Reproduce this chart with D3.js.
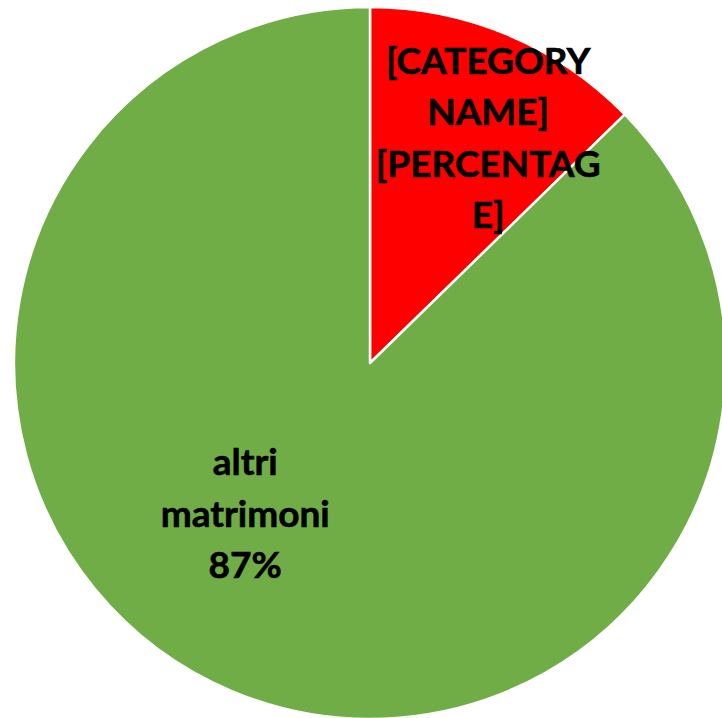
<!DOCTYPE html>
<html>
<head>
<meta charset="utf-8">
<script src="https://d3js.org/d3.v7.min.js"></script>
<style>
  body { margin: 0; background: #fff; overflow: hidden; }
  svg { display: block; }
  .lbl { font-family: Lato, "Open Sans", sans-serif; font-weight: bold; fill: #000; }
</style>
</head>
<body>
<svg id="chart"></svg>
<script>
// data
var categories = ["[CATEGORY NAME]", "altri matrimoni"];
var values = [12.7, 87.3];
var colors = ["#ff0000", "#70ad47"];
// label text as it wraps in the original
var labelLines = [
  ["[CATEGORY", "NAME]", "[PERCENTAG", "E]"],
  ["altri", "matrimoni", "87%"]
];

var w = 722, h = 718;
var cx = 370, cy = 363, r = 356;

// where the labels sit: angle (deg, clockwise from top) and fraction of radius
var labelPos = [{a: 27.7, f: 0.714}, {a: 219.6, f: 0.55}];
var lineH = 51.5;

var svg = d3.select("#chart")
    .attr("width", w)
    .attr("height", h);

var g = svg.append("g")
    .attr("transform", "translate(" + cx + "," + cy + ")");

var data = categories.map(function(c, i) { return {name: c, value: values[i], i: i}; });

var pie = d3.pie()
    .sort(null)
    .value(function(d) { return d.value; });

var arc = d3.arc()
    .innerRadius(0)
    .outerRadius(r);

var arcs = pie(data);

g.selectAll("path.slice")
  .data(arcs)
  .enter().append("path")
    .attr("class", "slice")
    .attr("d", arc)
    .attr("fill", function(d) { return colors[d.data.i]; })
    .attr("stroke", "#fff")
    .attr("stroke-width", 2.5)
    .attr("stroke-linejoin", "round");

// labels
arcs.forEach(function(d, i) {
  var p = d3.pointRadial(labelPos[i].a * Math.PI / 180, labelPos[i].f * r);
  var lines = labelLines[i];
  var t = g.append("text")
      .attr("class", "lbl")
      .attr("text-anchor", "middle")
      .attr("font-size", 37)
      .attr("stroke", "#000")
      .attr("stroke-width", 0.6)
      .attr("x", p[0])
      .attr("y", p[1]);
  lines.forEach(function(line, k) {
    t.append("tspan")
      .attr("x", p[0])
      .attr("y", p[1] + (k - (lines.length - 1) / 2) * lineH)
      .attr("dy", "0.35em")
      .text(line);
  });
});
</script>
</body>
</html>
